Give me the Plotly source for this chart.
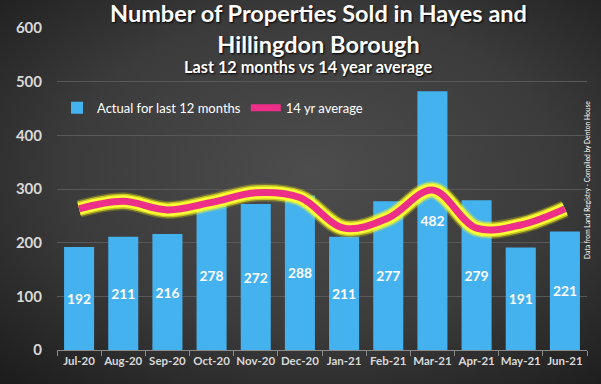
import base64
import plotly.graph_objects as go

months = ["Jul-20", "Aug-20", "Sep-20", "Oct-20", "Nov-20", "Dec-20",
          "Jan-21", "Feb-21", "Mar-21", "Apr-21", "May-21", "Jun-21"]
actual = [192, 211, 216, 278, 272, 288, 211, 277, 482, 279, 191, 221]
avg14 = [263, 277, 261, 275, 293, 284, 227, 246, 298, 227, 233, 263]
yticks = [0, 100, 200, 300, 400, 500, 600]

FONT = "Lato"

svg = """<svg xmlns='http://www.w3.org/2000/svg' width='601' height='384' viewBox='0 0 601 384'>
<defs><radialGradient id='g' cx='0.52' cy='0.45' r='0.75'>
<stop offset='0' stop-color='#4d4d4d'/><stop offset='0.55' stop-color='#3b3b3b'/>
<stop offset='1' stop-color='#1c1c1c'/></radialGradient></defs>
<rect width='601' height='384' fill='url(#g)'/></svg>"""
bg_uri = "data:image/svg+xml;base64," + base64.b64encode(svg.encode()).decode()

fig = go.Figure()
fig.add_trace(go.Bar(
    x=months, y=actual, name="Actual for last 12 months",
    marker=dict(color="#45b2f0", line=dict(width=0)),
    text=[str(v) for v in actual], textposition="inside",
    insidetextanchor="middle", textangle=0,
    textfont=dict(family=FONT, size=20, color="white", weight="bold"),
    cliponaxis=False,
))
fig.add_trace(go.Scatter(
    x=months, y=avg14, mode="lines", showlegend=False, hoverinfo="skip",
    line=dict(color="rgba(255,255,0,0.22)", width=18, shape="spline", smoothing=1.0),
))
fig.add_trace(go.Scatter(
    x=months, y=avg14, mode="lines", showlegend=False, hoverinfo="skip",
    line=dict(color="rgba(255,255,30,0.6)", width=15, shape="spline", smoothing=1.0),
))
fig.add_trace(go.Scatter(
    x=months, y=avg14, mode="lines", showlegend=False, hoverinfo="skip",
    line=dict(color="#ffff33", width=12, shape="spline", smoothing=1.0),
))
fig.add_trace(go.Scatter(
    x=months, y=avg14, mode="lines", name="14 yr average",
    line=dict(color="#ee2f8a", width=7, shape="spline", smoothing=1.0),
))

fig.update_layout(
    width=601, height=384,
    margin=dict(l=57, r=14, t=28, b=34, autoexpand=False),
    paper_bgcolor="#333333", plot_bgcolor="rgba(0,0,0,0)",
    bargap=0.32,
    font=dict(family=FONT, color="#d9d9d9"),
    images=[dict(source=bg_uri, xref="paper", yref="paper", x=-57/530, y=1+28/322,
                 sizex=601/530, sizey=384/322, xanchor="left", yanchor="top",
                 sizing="stretch", layer="below")],
    showlegend=True,
    legend=dict(orientation="h", x=0.0, y=0.752, xanchor="left", yanchor="middle",
                bgcolor="rgba(0,0,0,0)", font=dict(family=FONT, size=13, color="white"),
                itemwidth=30, tracegroupgap=0),
    xaxis=dict(showgrid=False, showline=True, linecolor="#8a8a8a", linewidth=1,
               ticks="outside", tickson="boundaries", ticklen=5, tickcolor="#8a8a8a",
               tickangle=0,
               tickfont=dict(family=FONT, size=11.5, color="#d9d9d9", weight="bold")),
    yaxis=dict(range=[0, 600], tickvals=yticks, showgrid=True, gridcolor="#585858",
               gridwidth=1, zeroline=False, showline=False, ticks="", ticklabelstandoff=14,
               tickfont=dict(family=FONT, size=15, color="#d9d9d9", weight="bold")),
)

shadow = "1px 1px 2px #000000"
fig.add_annotation(text="Number of Properties Sold in Hayes and<br>Hillingdon Borough",
                   xref="paper", yref="paper", x=(318 - 57) / 530, y=(350 - 29) / 322,
                   xanchor="center", yanchor="middle", showarrow=False,
                   font=dict(family=FONT, size=23.5, color="white", weight="bold", shadow=shadow))
fig.add_annotation(text="Last 12 months vs 14 year average",
                   xref="paper", yref="paper", x=(308 - 57) / 530, y=(350 - 66) / 322,
                   xanchor="center", yanchor="middle", showarrow=False,
                   font=dict(family=FONT, size=16.3, color="white", weight="bold", shadow=shadow))
fig.add_annotation(text="Data from Land Registry - Compiled by Denton House",
                   xref="paper", yref="paper", x=(587 - 57) / 530, y=(350 - 180) / 322,
                   xanchor="center", yanchor="middle", showarrow=False, textangle=-90,
                   font=dict(family=FONT, size=6.7, color="white"))

fig.write_html("out.html", config={"displayModeBar": False},
               post_script="document.body.style.margin='0';document.body.style.overflow='hidden';")
